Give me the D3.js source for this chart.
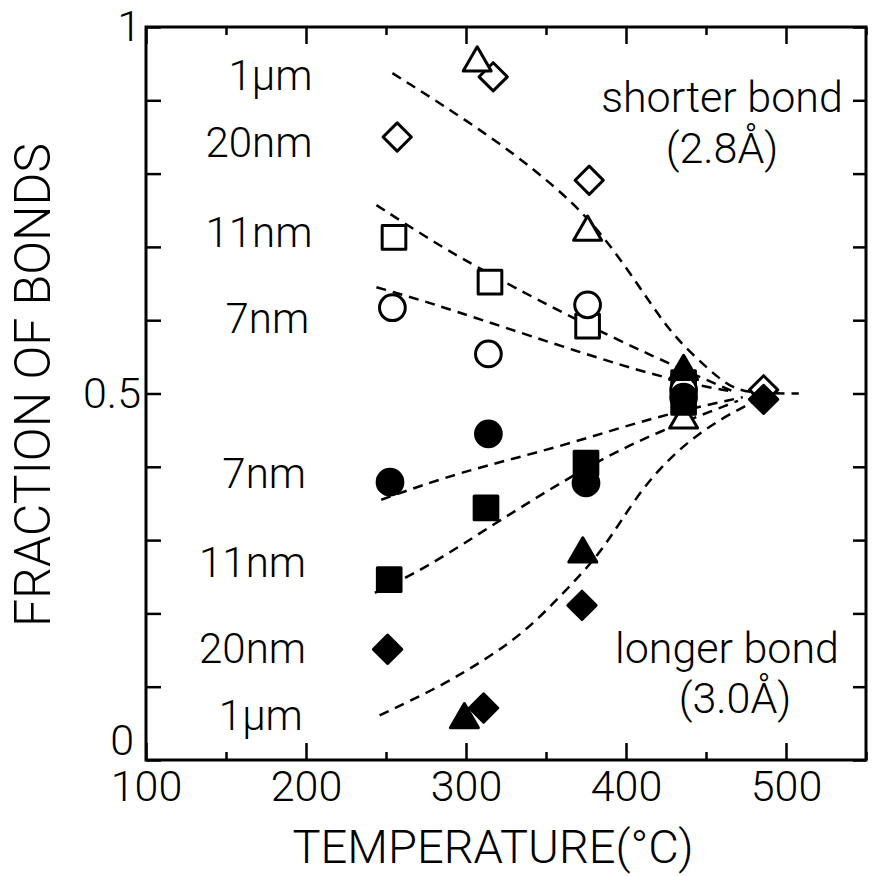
<!DOCTYPE html>
<html>
<head>
<meta charset="utf-8">
<script src="https://cdn.jsdelivr.net/npm/d3@7"></script>
<style>
  body { margin: 0; background: #fff; }
  text { font-family: Roboto, "Liberation Sans", sans-serif; font-weight: 300; fill: #000; }
</style>
</head>
<body>
<div id="chart"></div>
<script>
(function() {
    "use strict";

    // measured points, [temperature (C), fraction of bonds]
    var shorter1um  = [[307, 0.951], [376, 0.72], [436, 0.464]];
    var shorter20nm = [[257, 0.85], [317, 0.932], [377, 0.791], [486, 0.505]];
    var shorter11nm = [[255, 0.713], [315, 0.652], [376, 0.592], [436, 0.515]];
    var shorter7nm  = [[254, 0.617], [314, 0.554], [376, 0.621], [436, 0.505]];
    var longer1um   = [[299, 0.055], [373, 0.281], [436, 0.53]];
    var longer20nm  = [[251, 0.151], [311, 0.071], [372.5, 0.211], [486, 0.492]];
    var longer11nm  = [[252, 0.246], [312.5, 0.344], [375, 0.405], [436, 0.488]];
    var longer7nm   = [[252.5, 0.379], [314, 0.445], [375, 0.378], [436, 0.495]];

    // dashed guide curves
    var fitUpper1um  = [[254, 0.937], [317, 0.85], [369, 0.76], [396, 0.686], [421, 0.604], [434, 0.569], [452, 0.532], [467, 0.505], [484, 0.5], [508, 0.5]];
    var fitUpper11nm = [[244, 0.757], [276, 0.712], [302, 0.678], [359, 0.611], [417, 0.55], [468, 0.502]];
    var fitUpper7nm  = [[244, 0.645], [276, 0.625], [338, 0.58], [421, 0.521], [468, 0.502]];
    var fitLower7nm  = [[247, 0.355], [296, 0.393], [359, 0.427], [417, 0.468], [473, 0.495]];
    var fitLower11nm = [[243, 0.228], [276, 0.263], [321, 0.327], [379, 0.405], [419, 0.447], [470, 0.49]];
    var fitLower1um  = [[246, 0.061], [284, 0.10], [315, 0.141], [338, 0.177], [361, 0.228], [382, 0.277], [396, 0.323], [415, 0.386], [444, 0.446], [477, 0.487], [490, 0.497]];

    // size labels: [text, temperature of right edge, fraction at baseline]
    var upperLabels = [["1\u03bcm", 204, 0.914], ["20nm", 204, 0.823], ["11nm", 204, 0.70], ["7nm", 202, 0.583]];
    var lowerLabels = [["7nm", 200, 0.371], ["11nm", 200, 0.25], ["20nm", 200, 0.132], ["1\u03bcm", 198, 0.041]];

    var xMajorTicks = [100, 200, 300, 400, 500];
    var xMinorTicks = [150, 250, 350, 450, 550];
    var yTicks = [0, 0.1, 0.2, 0.3, 0.4, 0.5, 0.6, 0.7, 0.8, 0.9, 1];
    var yTickLabels = [0, 0.5, 1];

    var w = 872, h = 876;
    var left = 146, right = 866, top = 27, bottom = 760;

    var x = d3.scaleLinear().domain([100, 550]).range([left, right]);
    var y = d3.scaleLinear().domain([0, 1]).range([bottom, top]);

    var svg = d3.select("#chart").append("svg")
        .attr("width", w)
        .attr("height", h);

    // axes (ticks point inward)
    function styleAxis(g) {
        g.select(".domain").remove();
        g.selectAll("line").attr("stroke", "#000").attr("stroke-width", 2.5);
        g.selectAll("text").attr("font-size", 43).attr("font-family", "Roboto, 'Liberation Sans', sans-serif").attr("font-weight", 300);
    }

    svg.append("g").attr("transform", "translate(0," + bottom + ")")
        .call(d3.axisBottom(x).tickValues(xMinorTicks).tickSize(-8).tickFormat(""))
        .call(styleAxis);
    svg.append("g").attr("transform", "translate(0," + bottom + ")")
        .call(d3.axisBottom(x).tickValues(xMajorTicks).tickSize(-17).tickSizeOuter(0).tickPadding(10).tickFormat(d3.format("d")))
        .call(styleAxis);
    svg.append("g").attr("transform", "translate(0," + top + ")")
        .call(d3.axisTop(x).tickValues(xMinorTicks).tickSize(-8).tickFormat(""))
        .call(styleAxis);
    svg.append("g").attr("transform", "translate(0," + top + ")")
        .call(d3.axisTop(x).tickValues(xMajorTicks).tickSize(-17).tickFormat(""))
        .call(styleAxis);
    svg.append("g").attr("transform", "translate(" + left + ",0)")
        .call(d3.axisLeft(y).tickValues(yTicks).tickSize(-15).tickFormat(""))
        .call(styleAxis);
    var yLab = svg.append("g").attr("transform", "translate(" + left + ",0)")
        .call(d3.axisLeft(y).tickValues(yTickLabels).tickSize(0).tickPadding(5).tickFormat(function(d) { return String(d); }))
        .call(styleAxis);
    // the "0" sits a little above the corner so it clears "100"
    yLab.selectAll(".tick").filter(function(d) { return d === 0; })
        .select("text").attr("dy", "-0.12em").attr("x", -12);
    svg.append("g").attr("transform", "translate(" + right + ",0)")
        .call(d3.axisRight(y).tickValues(yTicks).tickSize(-13).tickFormat(""))
        .call(styleAxis);

    // frame
    svg.append("rect")
        .attr("x", left).attr("y", top)
        .attr("width", right - left).attr("height", bottom - top)
        .attr("fill", "none").attr("stroke", "#000").attr("stroke-width", 3);

    // dashed curves
    var line = d3.line()
        .x(function(d) { return x(d[0]); })
        .y(function(d) { return y(d[1]); })
        .curve(d3.curveBasis);

    svg.selectAll(".fit")
        .data([fitUpper1um, fitUpper11nm, fitUpper7nm, fitLower7nm, fitLower11nm, fitLower1um])
        .enter()
        .append("path")
            .attr("class", "fit")
            .attr("d", line)
            .attr("fill", "none")
            .attr("stroke", "#000")
            .attr("stroke-width", 2.5)
            .attr("stroke-dasharray", "10,7");

    // markers
    var series = [
        {pts: shorter20nm, shape: d3.symbolSquare, size: 400, rot: 45, filled: false},
        {pts: shorter11nm, shape: d3.symbolSquare, size: 560, rot: 0, filled: false},
        {pts: shorter7nm, shape: d3.symbolCircle, size: 520, rot: 0, filled: false},
        {pts: shorter1um, shape: d3.symbolTriangle, size: 340, rot: 0, filled: false},
        {pts: longer20nm, shape: d3.symbolSquare, size: 400, rot: 45, filled: true},
        {pts: longer11nm, shape: d3.symbolSquare, size: 560, rot: 0, filled: true},
        {pts: longer7nm, shape: d3.symbolCircle, size: 520, rot: 0, filled: true},
        {pts: longer1um, shape: d3.symbolTriangle, size: 340, rot: 0, filled: true}
    ];

    series.forEach(function(s) {
        svg.append("g").selectAll("path")
            .data(s.pts)
            .enter()
            .append("path")
                .attr("d", d3.symbol().type(s.shape).size(s.size))
                .attr("transform", function(d) {
                    return "translate(" + x(d[0]) + "," + y(d[1]) + ") rotate(" + s.rot + ")";
                })
                .attr("fill", s.filled ? "#000" : "#fff")
                .attr("stroke", "#000")
                .attr("stroke-width", 3)
                .attr("stroke-linejoin", "round");
    });

    // size labels
    svg.selectAll(".size-label")
        .data(upperLabels.concat(lowerLabels))
        .enter()
        .append("text")
            .classed("size-label", true)
            .attr("x", function(d) { return x(d[1]); })
            .attr("y", function(d) { return y(d[2]); })
            .attr("text-anchor", "end")
            .attr("font-size", 42)
            .text(function(d) { return d[0]; });

    // bond notes
    svg.append("text").attr("x", 722).attr("y", 112).attr("text-anchor", "middle")
        .attr("font-size", 43).text("shorter bond");
    svg.append("text").attr("x", 722).attr("y", 163).attr("text-anchor", "middle")
        .attr("font-size", 43).text("(2.8\u00c5)");
    svg.append("text").attr("x", 727).attr("y", 663).attr("text-anchor", "middle")
        .attr("font-size", 43).text("longer bond");
    svg.append("text").attr("x", 735).attr("y", 713).attr("text-anchor", "middle")
        .attr("font-size", 43).text("(3.0\u00c5)");

    // axis titles
    svg.append("text")
        .attr("x", 493).attr("y", 863)
        .attr("text-anchor", "middle")
        .attr("font-size", 47)
        .text("TEMPERATURE(\u00b0C)");
    svg.append("text")
        .attr("transform", "translate(50,385) rotate(-90)")
        .attr("text-anchor", "middle")
        .attr("font-size", 50)
        .text("FRACTION OF BONDS");
})();
</script>
</body>
</html>
